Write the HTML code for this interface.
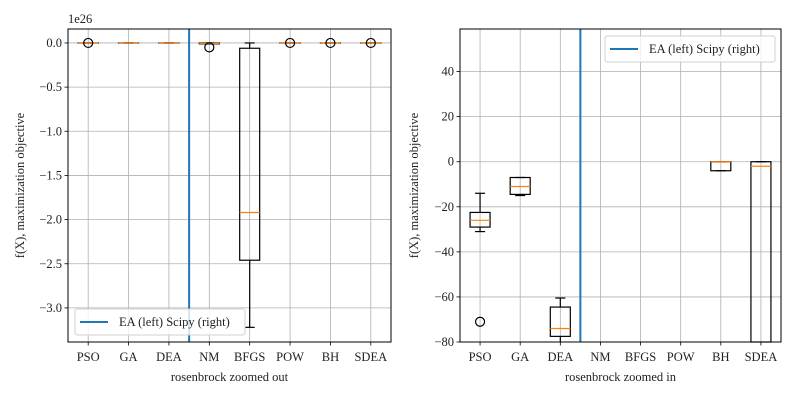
<!DOCTYPE html>
<html><head><meta charset="utf-8"><style>
html,body{margin:0;padding:0;background:#fff;width:800px;height:400px;overflow:hidden;}
svg{display:block;overflow:hidden;}
svg text{font-family:"Liberation Serif",serif;font-size:12.5px;fill:#222;}
</style></head><body>
<svg id="fig" width="800" height="400" xmlns="http://www.w3.org/2000/svg"></svg>
<script>
const categories=["PSO","GA","DEA","NM","BFGS","POW","BH","SDEA"];
// left: [whiskerLow, q1, median, q3, whiskerHigh] in units of 1e26
const leftStats=[[0,0,0,0,0],[0,0,0,0,0],[0,0,0,0,0],[-0.01,-0.01,-0.005,0,0],[-3.22,-2.46,-1.92,-0.06,0],[0,0,0,0,0],[0,0,0,0,0],[0,0,0,0,0]];
const leftFliers=[[0],[],[],[-0.05],[],[0],[0],[0]];
const leftTicks=[0,-0.5,-1,-1.5,-2,-2.5,-3];
const rightStats=[[-31,-29,-26,-22.5,-14],[-15,-14.5,-11,-7,-7],[-90,-77.5,-74,-64.5,-60.5],null,null,null,[-4,-4,0,0,0],[-200,-200,-2,0,0]];
const rightFliers=[[-71],[],[],[],[],[],[],[]];
const rightTicks=[40,20,0,-20,-40,-60,-80];
const svg=document.getElementById('fig');
const NS="http://www.w3.org/2000/svg";
function el(t,a,p){const e=document.createElementNS(NS,t);for(const k in a)e.setAttribute(k,a[k]);(p||svg).appendChild(e);return e;}
function panel(cfg){
  const g=el('g',{});
  
  
  const {x0,x1,y0,y1,ymin,ymax}=cfg;
  const sx=i=>x0+(i+1-0.5)/8*(x1-x0);
  const syRaw=v=>y0+(ymax-v)/(ymax-ymin)*(y1-y0);
  const sy=v=>Math.max(y0,Math.min(y1,syRaw(v)));
  cfg.ticks.forEach(t=>{const y=sy(t);
    const gl=el('line',{x1:x0,x2:x1,y1:y,y2:y,stroke:'#b0b0b0','stroke-width':0.8},g);
    
    el('line',{x1:x0-3.5,x2:x0,y1:y,y2:y,stroke:'#000','stroke-width':0.8},g);
    const tx=el('text',{x:x0-6,y:y+4,'text-anchor':'end'},g);tx.textContent=cfg.fmt(t).replace('-','\u2212');
    });
  categories.forEach((c,i)=>{const x=sx(i);
    const gl=el('line',{x1:x,x2:x,y1:y0,y2:y1,stroke:'#b0b0b0','stroke-width':0.8},g);
    
    el('line',{x1:x,x2:x,y1:y1,y2:y1+3.5,stroke:'#000','stroke-width':0.8},g);
    const tx=el('text',{x:x,y:y1+19,'text-anchor':'middle'},g);tx.textContent=c;
    });
  const pg=el('g',{},g);
  cfg.stats.forEach((s,i)=>{if(!s)return;const x=sx(i),w=20,cw=10;
    const b=el('g',{},pg);
    const st={stroke:'#000','stroke-width':1.2,fill:'none'};
    el('line',Object.assign({x1:x,x2:x,y1:sy(s[0]),y2:sy(s[1])},st),b);
    el('line',Object.assign({x1:x,x2:x,y1:sy(s[3]),y2:sy(s[4])},st),b);
    if(syRaw(s[0])<=y1) el('line',Object.assign({x1:x-cw/2,x2:x+cw/2,y1:sy(s[0]),y2:sy(s[0])},st),b);
    el('line',Object.assign({x1:x-cw/2,x2:x+cw/2,y1:sy(s[4]),y2:sy(s[4])},st),b);
    el('rect',Object.assign({x:x-w/2,y:sy(s[3]),width:w,height:Math.max(0.1,sy(s[1])-sy(s[3]))},st),b);
    el('line',{x1:x-w/2,x2:x+w/2,y1:sy(s[2]),y2:sy(s[2]),stroke:'#ff7f0e','stroke-width':1.2},b);
  });
  cfg.fliers.forEach((f,i)=>f.forEach(v=>{const c=el('circle',{cx:sx(i),cy:sy(v),r:4.5,fill:'none',stroke:'#000','stroke-width':1.2},pg);
    }));
  const vl=el('line',{x1:sx(2.5),x2:sx(2.5),y1:y0,y2:y1,stroke:'#1f77b4','stroke-width':2},g);
  
  const fr=el('rect',{x:x0,y:y0,width:x1-x0,height:y1-y0,fill:'none',stroke:'#000','stroke-width':1},g);
  
  const xl=el('text',{x:(x0+x1)/2,y:381,'text-anchor':'middle'},g);xl.textContent=cfg.xlabel;
  
  const yl=el('text',{x:0,y:0,'text-anchor':'middle',transform:`translate(${cfg.ylx},${(y0+y1)/2}) rotate(-90)`},g);yl.textContent='f(X), maximization objective';
  
  const lg=el('g',{},g);
  el('rect',{x:cfg.lx,y:cfg.ly,width:170,height:26,rx:2,fill:'#fff','fill-opacity':0.8,stroke:'#d0d0d0'},lg);
  el('line',{x1:cfg.lx+5,x2:cfg.lx+33,y1:cfg.ly+13,y2:cfg.ly+13,stroke:'#1f77b4','stroke-width':2},lg);
  const lt=el('text',{x:cfg.lx+44,y:cfg.ly+17},lg);lt.textContent='EA (left) Scipy (right)';
  if(cfg.offset){const o=el('text',{x:x0,y:y0-6},g);o.textContent=cfg.offset;}
}
panel({name:'left-chart',x0:68,x1:391,y0:29,y1:342,ymin:-3.386,ymax:0.158,ticks:leftTicks,stats:leftStats,fliers:leftFliers,fmt:t=>t.toFixed(1),xlabel:'rosenbrock zoomed out',ylx:24,lx:75,ly:309,offset:'1e26'});
panel({name:'right-chart',x0:460,x1:781,y0:29,y1:342,ymin:-80,ymax:58.9,ticks:rightTicks,stats:rightStats,fliers:rightFliers,fmt:t=>String(t),xlabel:'rosenbrock zoomed in',ylx:418,lx:605,ly:36});
</script>
</body></html>
